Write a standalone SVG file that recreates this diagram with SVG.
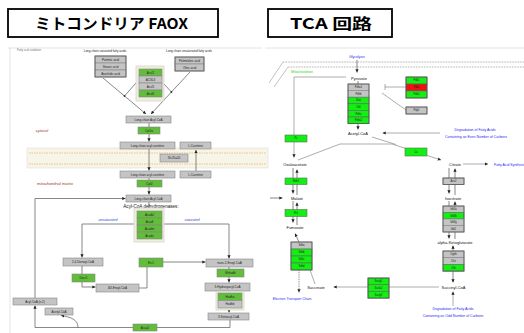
<svg xmlns="http://www.w3.org/2000/svg" width="524" height="333" viewBox="0 0 524 333">
<defs>
<style>
text{font-family:"Liberation Sans",Arial,sans-serif}
.ttl{font-family:"Noto Sans CJK JP","Liberation Sans",sans-serif;font-weight:bold;font-size:15px;fill:#000}
.tb{fill:#fff;stroke:#000;stroke-width:1.8}
.n{font-size:3px;fill:#222;text-anchor:middle}
.s{font-size:2.6px;fill:#222;text-anchor:middle}
.m{font-size:4px;fill:#111;text-anchor:middle}
.b{font-size:3.5px;fill:#2a2af0;text-anchor:middle}
.gy{fill:#c4c4c4;stroke:#888;stroke-width:0.6}
.gl{fill:#62bd3a;stroke:#888;stroke-width:0.6}
.gb{fill:#12f012;stroke:#666;stroke-width:0.6}
.rd{fill:#f01010;stroke:#666;stroke-width:0.6}
.ob{fill:none;stroke:#555;stroke-width:0.8}
.hl{fill:#eeeddf;stroke:#d8d6c8;stroke-width:0.8}
.c{fill:none;stroke:#555;stroke-width:0.7}
.cg{fill:none;stroke:#8a8a8a;stroke-width:0.7}
.loc{font-size:4px;fill:#a03a28;font-style:italic;text-anchor:middle}
.sub{font-size:3.6px;fill:#2a3ad0;font-style:italic;text-anchor:middle}
</style>
<marker id="a" viewBox="0 0 6 6" refX="6" refY="3" markerWidth="3.2" markerHeight="3.2" markerUnits="userSpaceOnUse" orient="auto"><path d="M0,0L6,3L0,6z" fill="#222"/></marker>
</defs>
<rect width="524" height="333" fill="#fff"/>

<!-- titles -->
<g id="title-faox"><rect class="tb" x="8" y="9" width="210" height="28"/><text class="ttl" x="35" y="28.5" textLength="153" lengthAdjust="spacingAndGlyphs">ミトコンドリア FAOX</text></g>
<g id="title-tca"><rect class="tb" x="268" y="9" width="124" height="28"/><text class="ttl" x="290" y="28.5" textLength="82" lengthAdjust="spacingAndGlyphs">TCA 回路</text></g>

<!-- panel frames -->
<g id="frames" fill="none" stroke="#ddd" stroke-width="0.8">
<path d="M8,48H262"/><path d="M265,48H524"/><path d="M10,48V333"/>
</g>
<text x="17" y="51" style="font-size:2.8px;fill:#777">Fatty acid oxidation</text>

<!-- LEFT: membrane band -->
<g id="membrane-left">
<rect x="27" y="148" width="241" height="20" fill="#f7f4e8" stroke="#ddd" stroke-width="0.6"/>
<path d="M29,153H266M29,164H266" stroke="#f0a040" stroke-width="0.6" stroke-dasharray="1.5 1"/>
</g>
<text class="loc" x="42" y="132">cytosol</text>
<text class="loc" x="55" y="184.5">mitochondrial matrix</text>

<!-- LEFT connectors -->
<g id="connectors-left">
<path class="c" d="M103,78L146,114" marker-end="url(#a)"/>
<path class="c" d="M190,72L151,114" marker-end="url(#a)"/>
<path class="c" d="M136,83L124.5,96M164,84L171.4,92"/>
<circle cx="124.5" cy="96" r="0.9" fill="#333"/><circle cx="171.4" cy="92" r="0.9" fill="#333"/>
<path class="c" d="M149,123V141.5" marker-end="url(#a)"/>
<path class="c" d="M149,149V170.5" marker-end="url(#a)"/>
<path class="c" d="M196,178V150" marker-end="url(#a)"/>
<path class="c" d="M149,178V194.5" marker-end="url(#a)"/>
<path class="c" d="M149,202V208"/>
<path class="c" d="M134,224H82V257.5" marker-end="url(#a)"/>
<path class="c" d="M164,224H229V258.5" marker-end="url(#a)"/>
<path class="c" d="M82,266V287H95.5" marker-end="url(#a)"/>
<path class="c" d="M139,288H147V267"/>
<path class="c" d="M163,262H205.5" marker-end="url(#a)"/>
<path class="c" d="M229,267V282.5" marker-end="url(#a)"/>
<path class="c" d="M229,291V312.5" marker-end="url(#a)"/>
<path class="c" d="M230,320V327.5H35V305.5" marker-end="url(#a)"/>
<path class="c" d="M35,298V198.5H125.5" marker-end="url(#a)"/>
<path class="c" d="M78,327.5C78,319 70,317 61,315.5" marker-end="url(#a)"/>
</g>

<!-- LEFT nodes -->
<text class="n" x="105" y="52">Long-chain saturated fatty acids</text>
<g id="sfa"><rect class="gy" x="95" y="56" width="31" height="7"/><rect class="gy" x="95" y="63" width="31" height="7"/><rect class="gy" x="95" y="70" width="31" height="7"/><rect class="ob" x="95" y="56" width="31" height="21"/>
<text class="n" x="110.5" y="60.6">Palmitic acid</text><text class="n" x="110.5" y="67.6">Stearic acid</text><text class="n" x="110.5" y="74.6">Arachidic acid</text></g>
<text class="n" x="189" y="52">Long-chain unsaturated fatty acids</text>
<g id="ufa"><rect class="gy" x="175" y="57" width="29" height="7"/><rect class="gy" x="175" y="64" width="29" height="7"/><rect class="ob" x="175" y="57" width="29" height="14"/>
<text class="n" x="189.5" y="61.6">Palmitoleic acid</text><text class="n" x="189.5" y="68.6">Oleic acid</text></g>
<g id="acsl"><rect class="hl" x="136" y="66" width="28" height="35"/>
<rect class="gl" x="139" y="69" width="23" height="7"/><rect class="gy" x="139" y="76" width="23" height="7"/><rect class="gy" x="139" y="83" width="23" height="7"/><rect class="gl" x="139" y="90" width="23" height="7"/>
<text class="n" x="150.5" y="73.6">Acsl1</text><text class="n" x="150.5" y="80.6">ACSL3</text><text class="n" x="150.5" y="87.6">Acsl5</text><text class="n" x="150.5" y="94.6">Acsl6</text></g>
<g id="lcacoa1"><rect class="gy" x="126" y="116" width="45" height="7"/><text class="n" x="148.5" y="120.6">Long-chain Acyl-CoA</text></g>
<g id="cpt1a"><rect class="gl" x="138" y="127" width="22" height="7"/><text class="n" x="149" y="131.6">Cpt1a</text></g>
<g id="lcac1"><rect class="gy" x="120" y="142" width="55" height="7"/><text class="n" x="147.5" y="146.6">Long-chain acyl-carnitine</text></g>
<g id="lcar1"><rect class="gy" x="180" y="142" width="31" height="7"/><text class="n" x="195.5" y="146.6">L-Carnitine</text></g>
<g id="slc25a20"><rect class="gy" x="160" y="154" width="28" height="8"/><text class="n" x="174" y="159">Slc25a20</text></g>
<g id="lcac2"><rect class="gy" x="120" y="171" width="55" height="7"/><text class="n" x="147.5" y="175.6">Long-chain acyl-carnitine</text></g>
<g id="lcar2"><rect class="gy" x="180" y="171" width="31" height="7"/><text class="n" x="195.5" y="175.6">L-Carnitine</text></g>
<g id="cpt2"><rect class="gl" x="137" y="180" width="25" height="7"/><text class="n" x="149.5" y="184.6">Cpt2</text></g>
<g id="lcacoa2"><rect class="gy" x="126" y="195" width="45" height="7"/><text class="n" x="148.5" y="199.6">Long-chain Acyl-CoA</text></g>
<text x="151" y="207.5" style="font-size:4.6px;fill:#111;text-anchor:middle">Acyl-CoA dehydrogenases:</text>
<text class="sub" x="108" y="221">unsaturated</text>
<text class="sub" x="192" y="221">saturated</text>
<g id="acad"><rect class="hl" x="134" y="208" width="30" height="34"/>
<rect class="gl" x="137" y="211" width="25" height="7"/><rect class="gl" x="137" y="218" width="25" height="7"/><rect class="gl" x="137" y="225" width="25" height="7"/><rect class="gl" x="137" y="232" width="25" height="7"/>
<text class="n" x="149.5" y="215.6">Acadvl</text><text class="n" x="149.5" y="222.6">Acadl</text><text class="n" x="149.5" y="229.6">Acadm</text><text class="n" x="149.5" y="236.6">Acads</text></g>
<g id="dienoyl"><rect class="gy" x="63" y="258" width="40" height="8"/><text class="n" x="83" y="263">2,4-Dienoyl-CoA</text></g>
<g id="decr1"><rect class="gl" x="72" y="274" width="23" height="8"/><text class="n" x="83.5" y="279">Decr1</text></g>
<g id="d3enoyl"><rect class="gy" x="96" y="284" width="43" height="8"/><text class="n" x="117.5" y="289">Δ3-Enoyl-CoA</text></g>
<g id="eci1"><rect class="gl" x="139" y="258" width="24" height="9"/><text class="n" x="151" y="263.5">Eci1</text></g>
<g id="t2enoyl"><rect class="gy" x="206" y="259" width="47" height="8"/><text class="n" x="229.5" y="264">trans-2-Enoyl-CoA</text></g>
<g id="ehhadh"><rect class="gl" x="217" y="269" width="27" height="8"/><text class="n" x="230.5" y="274">Ehhadh</text></g>
<g id="hydroxy"><rect class="gy" x="205" y="283" width="45" height="8"/><text class="n" x="227.5" y="288">3-Hydroxyacyl-CoA</text></g>
<g id="hadh"><rect class="hl" x="216" y="291.5" width="28" height="18.5"/><rect class="gl" x="218" y="293" width="24" height="7.5"/><rect class="gy" x="218" y="300.5" width="24" height="7.5"/>
<text class="n" x="230" y="297.8">Hadha</text><text class="n" x="230" y="305.3">Hadhb</text></g>
<g id="keto"><rect class="gy" x="208" y="313" width="41" height="7"/><text class="n" x="228.5" y="317.6">3-Ketoacyl-CoA</text></g>
<g id="acaa2"><rect class="gl" x="133" y="324" width="24" height="7"/><text class="n" x="145" y="328.6">Acaa2</text></g>
<g id="acylcoa-n2"><rect class="gy" x="13" y="298" width="44" height="7"/><text class="n" x="35" y="302.6">Acyl-CoA (n-2)</text></g>
<g id="acetylcoa-l"><rect class="gy" x="45" y="308" width="28" height="7"/><text class="n" x="59" y="312.6">Acetyl-CoA</text></g>

<!-- RIGHT: membrane -->
<g id="membrane-right" fill="none">
<path d="M283,62H524M288,67H524" stroke="#666" stroke-width="0.6" stroke-dasharray="0.8 0.8"/>
<path d="M269,83L283,62M274,87L288,67" stroke="#999" stroke-width="0.6"/>
</g>
<text x="302" y="72.5" style="font-size:3.5px;fill:#2ad82a;text-anchor:middle">Mitochondrion</text>

<!-- RIGHT connectors -->
<g id="connectors-right">
<path class="c" d="M357,60V72.5" marker-end="url(#a)"/>
<path class="cg" d="M346,77H294V157.5" marker-end="url(#a)"/>
<path class="c" d="M358,81V84"/>
<path class="c" d="M358,124V129.5" marker-end="url(#a)"/>
<path class="cg" d="M385,84V90M385,87H406M382,93L406,110"/>
<path class="cg" d="M440,133H382.5" marker-end="url(#a)"/>
<path class="cg" d="M298,160L340,144H392L441,160" marker-end="url(#a)"/>
<path class="cg" d="M372,137L396,144.5"/>
<path class="cg" d="M463,164H488" marker-end="url(#a)"/>
<path class="c" d="M293,168V193.5" marker-end="url(#a)"/>
<path class="c" d="M297,195V169.5" marker-end="url(#a)"/>
<path class="c" d="M293,201V222.5" marker-end="url(#a)"/>
<path class="c" d="M297,225V202.5" marker-end="url(#a)"/>
<path class="c" d="M449,168V193.5" marker-end="url(#a)"/>
<path class="c" d="M455,195V168.5" marker-end="url(#a)"/>
<path class="c" d="M449,201V238.5" marker-end="url(#a)"/>
<path class="c" d="M455,239V201.5" marker-end="url(#a)"/>
<path class="c" d="M453,251V245.5" marker-end="url(#a)"/>
<path class="c" d="M453,271V282.5" marker-end="url(#a)"/>
<path class="cg" d="M440,287H333.5" marker-end="url(#a)"/>
<path class="cg" d="M453,306V291.5" marker-end="url(#a)"/>
<path class="cg" d="M315,284L310,270"/>
<path class="c" d="M299,242L295,233.5" marker-end="url(#a)"/>
<path class="c" d="M299,270V292.5" stroke-dasharray="1 0.8" marker-end="url(#a)"/>
<path class="c" d="M270,198H282.5" marker-end="url(#a)"/>
</g>

<!-- RIGHT nodes -->
<text class="b" x="357" y="57.5">Glycolysis</text>
<g id="pyruvate"><text class="m" x="359" y="80">Pyruvate</text></g>
<g id="pdh"><rect class="gy" x="348" y="84" width="21" height="6.6"/><rect class="gy" x="348" y="90.6" width="21" height="6.6"/><rect class="gb" x="348" y="97.2" width="21" height="6.6"/><rect class="gb" x="348" y="103.8" width="21" height="6.6"/><rect class="gb" x="348" y="110.4" width="21" height="6.6"/><rect class="gb" x="348" y="117" width="21" height="6.6"/><rect class="ob" x="348" y="84" width="21" height="39.6"/>
<text class="s" x="358.5" y="88.2">Pdha1</text><text class="s" x="358.5" y="94.8">Pdhb</text><text class="s" x="358.5" y="101.4">Dlat</text><text class="s" x="358.5" y="108">Dld</text><text class="s" x="358.5" y="114.6">Pdhx</text><text class="s" x="358.5" y="121.2">Pdha2</text></g>
<g id="pdk"><rect class="gb" x="406" y="77" width="21" height="7"/><rect class="rd" x="406" y="84" width="21" height="7"/><rect class="gb" x="406" y="91" width="21" height="7"/><rect class="ob" x="406" y="77" width="21" height="21"/>
<text class="s" x="416.5" y="81.4">Pdk1</text><text class="s" x="416.5" y="88.4">Pdk2</text><text class="s" x="416.5" y="95.4">Pdk4</text></g>
<g id="pdp"><rect class="gy" x="406" y="107" width="21" height="7"/><rect class="ob" x="406" y="107" width="21" height="7"/><text class="s" x="416.5" y="111.4">Pdp1</text></g>
<text class="b" x="475" y="131">Degradation of Fatty Acids</text>
<text class="b" x="476" y="138">Containing an Even Number of Carbons</text>
<g id="acetylcoa"><text class="m" x="358" y="135">Acetyl-CoA</text></g>
<g id="pc"><rect class="gb" x="285" y="135" width="22" height="7"/><text class="s" x="296" y="139.4">Pc</text></g>
<g id="cs"><rect class="gb" x="405" y="148" width="22" height="8"/><text class="s" x="416" y="153">Cs</text></g>
<g id="oxaloacetate"><rect x="279" y="162" width="32" height="5" fill="#fff"/><text class="m" x="295" y="166">Oxaloacetate</text></g>
<g id="citrate"><text class="m" x="455" y="165.5">Citrate</text></g>
<text class="b" x="494" y="165.5" style="text-anchor:start">Fatty Acid Synthesis</text>
<g id="aco2"><rect class="gy" x="443" y="178" width="21" height="6.5"/><rect class="ob" x="443" y="178" width="21" height="6.5"/><text class="s" x="453.5" y="182.2">Aco2</text></g>
<g id="isocitrate"><rect x="440" y="196" width="27" height="5" fill="#fff"/><text class="m" x="453" y="200">Isocitrate</text></g>
<g id="idh"><rect class="gy" x="443" y="206" width="21" height="6.5"/><rect class="gb" x="443" y="212.5" width="21" height="6.5"/><rect class="gy" x="443" y="219" width="21" height="6.5"/><rect class="gy" x="443" y="225.5" width="21" height="6.5"/><rect class="ob" x="443" y="206" width="21" height="26"/>
<text class="s" x="453.5" y="210.2">Idh3a</text><text class="s" x="453.5" y="216.7">Idh3b</text><text class="s" x="453.5" y="223.2">Idh3g</text><text class="s" x="453.5" y="229.7">Idh2</text></g>
<g id="akg"><rect x="434" y="240" width="42" height="5" fill="#fff"/><text class="m" x="455" y="244">alpha-Ketoglutarate</text></g>
<g id="ogdh"><rect class="gy" x="443" y="251" width="21" height="6.7"/><rect class="gy" x="443" y="257.7" width="21" height="6.7"/><rect class="gb" x="443" y="264.4" width="21" height="6.7"/><rect class="ob" x="443" y="251" width="21" height="20.1"/>
<text class="s" x="453.5" y="255.3">Ogdh</text><text class="s" x="453.5" y="262">Dlst</text><text class="s" x="453.5" y="268.7">Dld</text></g>
<g id="succinylcoa"><rect x="439" y="285" width="29" height="5" fill="#fff"/><text class="m" x="453.5" y="289">Succinyl-CoA</text></g>
<text class="b" x="453" y="310">Degradation of Fatty Acids</text>
<text class="b" x="453" y="317">Containing an Odd Number of Carbons</text>
<g id="sucla"><rect class="gb" x="368" y="278" width="21" height="6.7"/><rect class="gb" x="368" y="284.7" width="21" height="6.7"/><rect class="gb" x="368" y="291.4" width="21" height="6.7"/><rect class="ob" x="368" y="278" width="21" height="20.1"/>
<text class="s" x="378.5" y="282.3">Suclg1</text><text class="s" x="378.5" y="289">Sucla2</text><text class="s" x="378.5" y="295.7">Suclg2</text></g>
<g id="succinate"><text class="m" x="316" y="289">Succinate</text></g>
<g id="sdh"><rect class="gy" x="291" y="242" width="21" height="7"/><rect class="gb" x="291" y="249" width="21" height="7"/><rect class="gb" x="291" y="256" width="21" height="7"/><rect class="gb" x="291" y="263" width="21" height="7"/><rect class="ob" x="291" y="242" width="21" height="28"/>
<text class="s" x="301.5" y="246.4">Sdha</text><text class="s" x="301.5" y="253.4">Sdhb</text><text class="s" x="301.5" y="260.4">Sdhc</text><text class="s" x="301.5" y="267.4">Sdhd</text></g>
<text class="b" x="292" y="300">Electron Transport Chain</text>
<g id="mdh"><rect class="gb" x="285" y="178" width="22" height="6.5"/><text class="s" x="296" y="182.2">Mdh2</text></g>
<g id="malate"><rect x="287" y="195" width="20" height="5" fill="#fff"/><text class="m" x="297" y="199.5">Malate</text></g>
<g id="fh"><rect class="gb" x="285" y="209.5" width="22" height="7"/><text class="s" x="296" y="213.9">Fh1</text></g>
<g id="fumarate"><rect x="283" y="225" width="24" height="5" fill="#fff"/><text class="m" x="295" y="229">Fumarate</text></g>
</svg>
